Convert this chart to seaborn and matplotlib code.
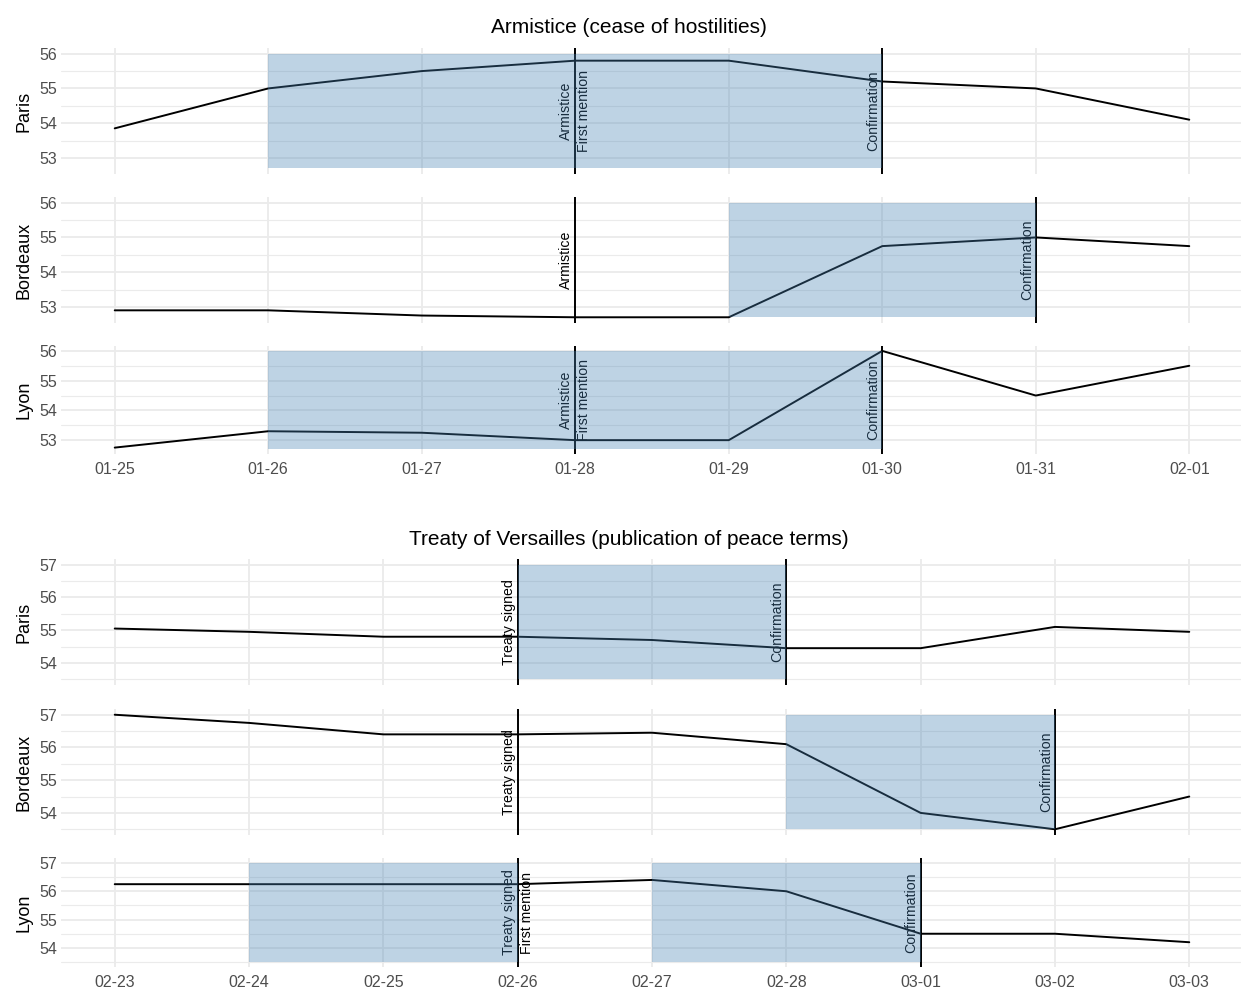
import numpy as np
import pandas as pd
import matplotlib
matplotlib.use("Agg")
import matplotlib.pyplot as plt
import matplotlib.dates as mdates
import matplotlib.transforms as mtransforms
from matplotlib.ticker import MultipleLocator
import seaborn as sns

# ---------------- data ----------------
cities = ["Paris", "Bordeaux", "Lyon"]

title_top = "Armistice (cease of hostilities)"
dates_top = ["01-25", "01-26", "01-27", "01-28", "01-29", "01-30", "01-31", "02-01"]
paris_top = [53.85, 55.0, 55.5, 55.8, 55.8, 55.2, 55.0, 54.1]
bordeaux_top = [52.9, 52.9, 52.75, 52.7, 52.7, 54.75, 55.0, 54.75]
lyon_top = [52.75, 53.3, 53.25, 53.0, 53.0, 56.0, 54.5, 55.5]
shade_top = {"Paris": [("01-26", "01-30")],
             "Bordeaux": [("01-29", "01-31")],
             "Lyon": [("01-26", "01-30")]}
events_top = {"Paris": [("01-28", "Armistice", "First mention"), ("01-30", "Confirmation", None)],
              "Bordeaux": [("01-28", "Armistice", None), ("01-31", "Confirmation", None)],
              "Lyon": [("01-28", "Armistice", "First mention"), ("01-30", "Confirmation", None)]}

title_bot = "Treaty of Versailles (publication of peace terms)"
dates_bot = ["02-23", "02-24", "02-25", "02-26", "02-27", "02-28", "03-01", "03-02", "03-03"]
paris_bot = [55.05, 54.95, 54.8, 54.8, 54.7, 54.45, 54.45, 55.1, 54.95]
bordeaux_bot = [57.0, 56.75, 56.4, 56.4, 56.45, 56.1, 54.0, 53.5, 54.5]
lyon_bot = [56.25, 56.25, 56.25, 56.25, 56.4, 56.0, 54.5, 54.5, 54.2]
shade_bot = {"Paris": [("02-26", "02-28")],
             "Bordeaux": [("02-28", "03-02")],
             "Lyon": [("02-24", "02-26"), ("02-27", "03-01")]}
events_bot = {"Paris": [("02-26", "Treaty signed", None), ("02-28", "Confirmation", None)],
              "Bordeaux": [("02-26", "Treaty signed", None), ("03-02", "Confirmation", None)],
              "Lyon": [("02-26", "Treaty signed", "First mention"), ("03-01", "Confirmation", None)]}

# ---------------- style ----------------
sns.set_theme(style="whitegrid")
plt.rcParams["font.family"] = ["Liberation Sans", "DejaVu Sans"]

W, H = 1241, 990
fig = plt.figure(figsize=(W / 100, H / 100), dpi=100)

GRID = "#EBEBEB"
SHADE = "#4682B4"
TICKC = "#4D4D4D"


def to_dt(lbls):
    return pd.to_datetime(["1919-" + s for s in lbls])


def add_section(title, dates, series, shades, events, rows, title_y):
    dt = to_dt(dates)
    allv = np.concatenate([np.asarray(s) for s in series])
    lo, hi = allv.min(), allv.max()
    pad = (hi - lo) * 0.05
    x0 = dt[0] - (dt[-1] - dt[0]) * 0.05
    x1 = dt[-1] + (dt[-1] - dt[0]) * 0.05
    fig.text(629 / W, 1 - title_y / H, title, ha="center", va="baseline", fontsize=15, color="black")
    for i, (city, vals, (top, bot)) in enumerate(zip(cities, series, rows)):
        ax = fig.add_axes([61 / W, 1 - bot / H, (1243 - 61) / W, (bot - top) / H])
        df = pd.DataFrame({"date": dt, "value": vals})
        sns.lineplot(data=df, x="date", y="value", ax=ax, color="black", linewidth=1.4, zorder=3)
        ax.set_xlim(x0, x1)
        ax.set_ylim(lo - pad, hi + pad)
        ax.xaxis.set_major_locator(mdates.DayLocator())
        ax.xaxis.set_major_formatter(mdates.DateFormatter("%m-%d"))
        ax.yaxis.set_major_locator(MultipleLocator(1))
        ax.yaxis.set_minor_locator(MultipleLocator(0.5))
        ax.grid(True, which="major", axis="both", color=GRID, linewidth=1.3)
        ax.grid(True, which="minor", axis="y", color=GRID, linewidth=0.8)
        for s in ax.spines.values():
            s.set_visible(False)
        ax.set_facecolor("white")
        ax.tick_params(axis="both", which="both", length=0, labelsize=11.5, labelcolor=TICKC)
        ax.tick_params(axis="x", pad=5.5)
        ax.tick_params(axis="y", pad=3)
        ax.set_xlabel("")
        ax.set_ylabel(city, fontsize=13, color="black", labelpad=5)
        if i < 2:
            ax.tick_params(axis="x", labelbottom=False)
        ymid = (lo + hi) / 2
        for d, left_lbl, right_lbl in events[city]:
            xd = to_dt([d])[0]
            ax.axvline(xd, color="black", linewidth=1.4, zorder=4)
            if left_lbl:
                tr = mtransforms.offset_copy(ax.transData, fig=fig, x=-2, y=0, units="dots")
                ax.text(xd, ymid, left_lbl, rotation=90, ha="right", va="center",
                        fontsize=10.2, color="black", transform=tr, zorder=2)
            if right_lbl:
                tr = mtransforms.offset_copy(ax.transData, fig=fig, x=2, y=0, units="dots")
                ax.text(xd, ymid, right_lbl, rotation=90, ha="left", va="center",
                        fontsize=10.2, color="black", transform=tr, zorder=2)
        for a, b in shades[city]:
            xa, xb = to_dt([a, b])
            ax.fill_between([xa, xb], [lo, lo], [hi, hi], color=SHADE, alpha=0.35,
                            linewidth=0, zorder=5)


add_section(title_top, dates_top, [paris_top, bordeaux_top, lyon_top], shade_top, events_top,
            [(48, 174), (197, 323), (346, 454)], 33)
add_section(title_bot, dates_bot, [paris_bot, bordeaux_bot, lyon_bot], shade_bot, events_bot,
            [(559, 685), (709, 835), (858, 967)], 545)

fig.savefig("out.png", dpi=100, facecolor="white")
